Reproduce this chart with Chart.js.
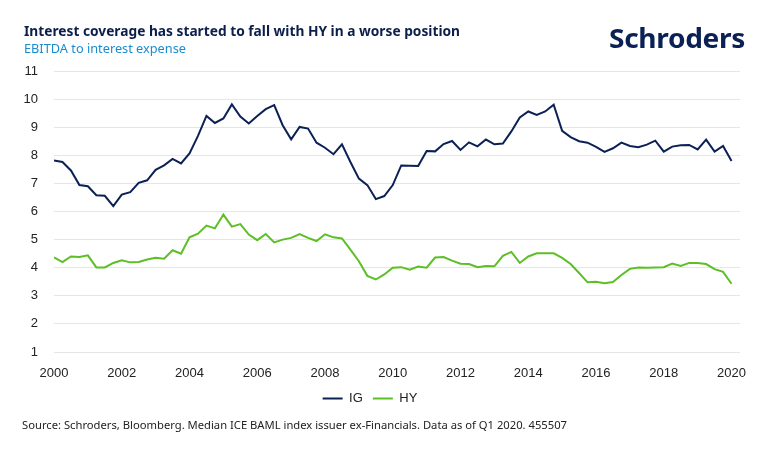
<!DOCTYPE html>
<html>
<head>
<meta charset="utf-8">
<script src="https://cdn.jsdelivr.net/npm/chart.js@4"></script>
<style>
  html, body { margin: 0; padding: 0; background: #fff; }
  #wrap { position: relative; width: 770px; height: 453px; overflow: hidden; }
  #wrap canvas { position: absolute; left: 0; top: 0; }
  .txt { position: absolute; white-space: nowrap; transform-origin: 0 50%; line-height: 1; }
  #title { left: 24px; top: 21px; font: bold 14px "Noto Sans", sans-serif; color: #0c1f4b; }
  #subtitle { left: 24px; top: 39px; font: 13px "Noto Sans", sans-serif; color: #1b8bd0; }
  #logo { left: 609px; top: 20px; font: bold 26px "Noto Sans", sans-serif; color: #0b2155; letter-spacing: -0.3px; }
  #source { left: 22px; top: 417px; font: 11px "Noto Sans", sans-serif; color: #222; }
</style>
</head>
<body>
<div id="wrap">
  <canvas id="c" width="770" height="453"></canvas>
  <div class="txt" id="title" data-w="436">Interest coverage has started to fall with HY in a worse position</div>
  <div class="txt" id="subtitle" data-w="162">EBITDA to interest expense</div>
  <div class="txt" id="logo" data-w="136">Schroders</div>
  <div class="txt" id="source" data-w="545">Source: Schroders, Bloomberg. Median ICE BAML index issuer ex-Financials. Data as of Q1 2020. 455507</div>
</div>
<script>
// Quarterly periods, 2000 Q1 .. 2020 Q1
const startYear = 2000;
const quarterCount = 81;
const yearTicks = [2000, 2002, 2004, 2006, 2008, 2010, 2012, 2014, 2016, 2018, 2020];
const yTicks = [1, 2, 3, 4, 5, 6, 7, 8, 9, 10, 11];

const igValues = [
  7.82, 7.76, 7.46, 6.94, 6.90, 6.58, 6.56, 6.19, 6.60, 6.69,
  7.02, 7.11, 7.48, 7.64, 7.87, 7.71, 8.07, 8.69, 9.40, 9.15,
  9.31, 9.81, 9.38, 9.13, 9.40, 9.64, 9.79, 9.07, 8.57, 9.01,
  8.95, 8.45, 8.27, 8.04, 8.39, 7.76, 7.17, 6.94, 6.44, 6.55,
  6.94, 7.64, 7.63, 7.62, 8.15, 8.14, 8.40, 8.51, 8.19, 8.46,
  8.32, 8.56, 8.39, 8.42, 8.85, 9.35, 9.56, 9.44, 9.56, 9.80,
  8.87, 8.65, 8.50, 8.45, 8.30, 8.12, 8.25, 8.45, 8.33, 8.29,
  8.38, 8.52, 8.13, 8.31, 8.36, 8.37, 8.21, 8.56, 8.13, 8.33,
  7.80
];
const hyValues = [
  4.37, 4.20, 4.40, 4.38, 4.44, 4.01, 4.01, 4.17, 4.26, 4.19,
  4.20, 4.29, 4.35, 4.32, 4.62, 4.50, 5.08, 5.21, 5.50, 5.40,
  5.89, 5.46, 5.55, 5.18, 4.98, 5.20, 4.90, 5.00, 5.06, 5.20,
  5.06, 4.95, 5.19, 5.08, 5.04, 4.64, 4.23, 3.71, 3.58, 3.76,
  4.00, 4.02, 3.93, 4.04, 4.00, 4.36, 4.38, 4.25, 4.14, 4.13,
  4.02, 4.06, 4.05, 4.42, 4.56, 4.17, 4.40, 4.51, 4.51, 4.51,
  4.35, 4.13, 3.81, 3.48, 3.50, 3.45, 3.49, 3.74, 3.96, 4.01,
  4.00, 4.01, 4.02, 4.15, 4.06, 4.17, 4.17, 4.13, 3.95, 3.85,
  3.43
];

// fractional-year position of each quarter
const periods = [];
for (let i = 0; i < quarterCount; i++) periods.push(startYear + i / 4);

const toPoints = vals => vals.map((v, i) => ({ x: periods[i], y: v }));

// fit HTML text widths
document.querySelectorAll('.txt').forEach(el => {
  const target = parseFloat(el.dataset.w);
  const w = el.getBoundingClientRect().width;
  if (w > 0) el.style.transform = 'scaleX(' + (target / w) + ')';
});

const tickFont = { family: '"Liberation Sans", Arial, sans-serif', size: 13 };

new Chart(document.getElementById('c'), {
  type: 'line',
  data: {
    datasets: [
      { label: 'IG', data: toPoints(igValues), borderColor: '#0b2155', backgroundColor: '#0b2155',
        borderWidth: 2, pointRadius: 0, tension: 0 },
      { label: 'HY', data: toPoints(hyValues), borderColor: '#5cbf26', backgroundColor: '#5cbf26',
        borderWidth: 2, pointRadius: 0, tension: 0 }
    ]
  },
  options: {
    responsive: false,
    animation: false,
    layout: { padding: { top: 71, left: 0, right: 30, bottom: 38 } },
    plugins: {
      tooltip: { enabled: false },
      legend: {
        position: 'bottom',
        labels: {
          usePointStyle: true,
          pointStyle: 'line',
          pointStyleWidth: 20,
          color: '#222',
          font: { family: '"Liberation Sans Narrow", "Liberation Sans", Arial, sans-serif', size: 13 },
          padding: 10
        }
      }
    },
    scales: {
      x: {
        type: 'linear',
        min: 2000,
        max: 2020.25,
        afterBuildTicks: s => { s.ticks = yearTicks.map(v => ({ value: v })); },
        afterFit: s => { s.height = 30; },
        grid: { display: false, drawTicks: false },
        border: { display: false },
        ticks: { color: '#222', font: tickFont, padding: 14, maxRotation: 0, autoSkip: false,
                 callback: v => String(v) }
      },
      y: {
        min: 1,
        max: 11,
        afterBuildTicks: s => { s.ticks = yTicks.map(v => ({ value: v })); },
        afterFit: s => { s.width = 54; },
        grid: { color: '#e6e6e6', lineWidth: 1, drawTicks: false },
        border: { display: false },
        ticks: { color: '#222', font: tickFont, padding: 16, callback: v => String(v) }
      }
    }
  }
});
</script>
</body>
</html>
